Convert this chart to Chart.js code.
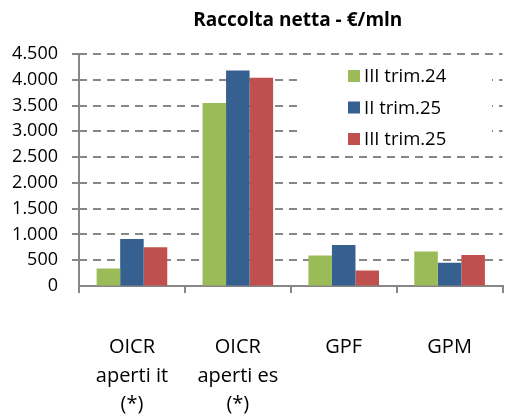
<!DOCTYPE html>
<html>
<head>
<meta charset="utf-8">
<script src="https://cdn.jsdelivr.net/npm/chart.js@4"></script>
<style>
  html, body { margin: 0; padding: 0; background: #fff; overflow: hidden; }
  #wrap { width: 512px; height: 420px; }
</style>
</head>
<body>
<div id="wrap"><canvas id="raccoltaChart"></canvas></div>
<script>
const categories = [['OICR', 'aperti it', '(*)'], ['OICR', 'aperti es', '(*)'], 'GPF', 'GPM'];
const seriesNames = ['III trim.24', 'II trim.25', 'III trim.25'];
const trim3_24 = [340, 3550, 590, 670];
const trim2_25 = [910, 4180, 795, 450];
const trim3_25 = [750, 4040, 300, 600];
const yMax = 4500;
const yStep = 500;
const colors = ['#9BBB59', '#36608F', '#C0504D'];
const gridGrey = '#878787';
const fontFamily = '"Open Sans", "Noto Sans", sans-serif';

// dashed horizontal gridlines, solid tick marks left of the y axis
const dashedGrid = {
  id: 'dashedGrid',
  beforeDatasetsDraw(chart) {
    const ctx = chart.ctx;
    const area = chart.chartArea;
    const y = chart.scales.y;
    ctx.save();
    ctx.strokeStyle = gridGrey;
    ctx.lineWidth = 2;
    y.ticks.forEach(t => {
      if (t.value === 0) return;
      const py = Math.round(y.getPixelForValue(t.value));
      ctx.setLineDash([]);
      ctx.beginPath();
      ctx.moveTo(area.left - 7, py);
      ctx.lineTo(area.left, py);
      ctx.stroke();
      ctx.setLineDash([8, 6]);
      ctx.beginPath();
      ctx.moveTo(area.left, py);
      ctx.lineTo(area.right, py);
      ctx.stroke();
    });
    ctx.restore();
  }
};

// title + floating legend, drawn on top of the plot like the original
const overlay = {
  id: 'overlay',
  afterDatasetsDraw(chart) {
    const ctx = chart.ctx;
    const area = chart.chartArea;
    ctx.save();
    ctx.fillStyle = '#000';
    ctx.font = 'bold 19px ' + fontFamily;
    ctx.textAlign = 'center';
    ctx.textBaseline = 'middle';
    ctx.fillText('Raccolta netta - €/mln', (area.left + area.right) / 2 + 7, 21);

    const lx = area.left + 224;
    ctx.fillStyle = '#fff';
    ctx.fillRect(lx, area.top + 8, 189, 92);
    ctx.font = '18.5px ' + fontFamily;
    ctx.textAlign = 'left';
    chart.data.datasets.forEach((ds, i) => {
      const cy = area.top + 22 + i * 31.5;
      ctx.fillStyle = ds.backgroundColor;
      ctx.fillRect(lx + 45, cy - 6, 12, 12);
      ctx.fillStyle = '#000';
      ctx.fillText(ds.label, lx + 61, cy + 1);
    });
    ctx.restore();
  }
};

const ctx = document.getElementById('raccoltaChart').getContext('2d');
const raccoltaChart = new Chart(ctx, {
  type: 'bar',
  data: {
    labels: categories,
    datasets: [
      { label: seriesNames[0], data: trim3_24, backgroundColor: colors[0] },
      { label: seriesNames[1], data: trim2_25, backgroundColor: colors[1] },
      { label: seriesNames[2], data: trim3_25, backgroundColor: colors[2] }
    ]
  },
  options: {
    responsive: true,
    maintainAspectRatio: false,
    animation: false,
    datasets: {
      bar: { categoryPercentage: 0.667, barPercentage: 1 }
    },
    layout: { padding: { top: 54, right: 1, bottom: 0, left: 0 } },
    plugins: {
      legend: { display: false },
      title: { display: false },
      tooltip: { enabled: false }
    },
    scales: {
      x: {
        afterFit(scale) { scale.height = 134; },
        grid: {
          offset: true,
          drawOnChartArea: false,
          drawTicks: true,
          tickLength: 7,
          color: gridGrey,
          lineWidth: 2
        },
        border: { color: gridGrey, width: 2 },
        ticks: {
          padding: 40,
          color: '#000',
          maxRotation: 0,
          font: { family: fontFamily, size: 20, lineHeight: 1.43 }
        }
      },
      y: {
        min: 0,
        max: yMax,
        afterFit(scale) { scale.width = 79; },
        grid: {
          display: true,
          drawOnChartArea: false,
          drawTicks: false,
          tickLength: 7
        },
        border: { color: gridGrey, width: 2 },
        ticks: {
          stepSize: yStep,
          padding: 21,
          color: '#000',
          font: { family: fontFamily, size: 18 },
          callback: v => v.toLocaleString('it-IT')
        }
      }
    }
  },
  plugins: [dashedGrid, overlay]
});
</script>
</body>
</html>
